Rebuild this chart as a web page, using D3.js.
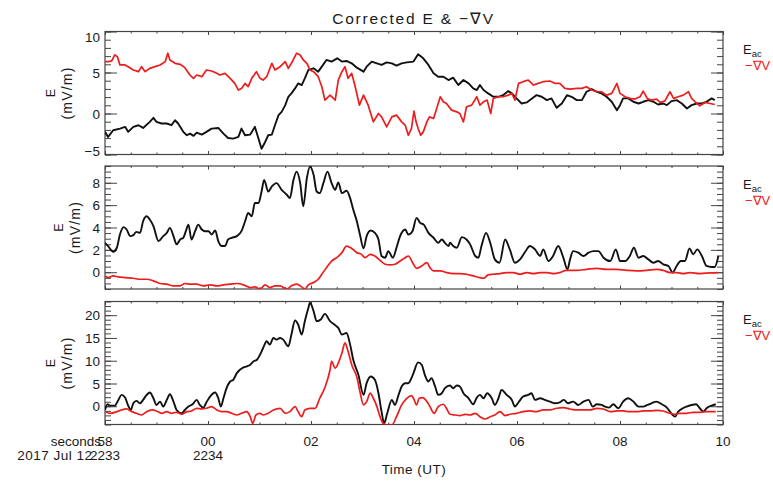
<!DOCTYPE html>
<html>
<head>
<meta charset="utf-8">
<script src="https://cdn.jsdelivr.net/npm/d3@7"></script>
<style>
  body { margin: 0; background: #fff; }
  svg text { font-family: "Liberation Sans", Arial, Helvetica, sans-serif; fill: #1a1a1a; }
</style>
</head>
<body>
<svg id="chart" width="773" height="481"></svg>
<script>
// Time is seconds after 2017-07-12 22:33:58 UT; field values are mV/m.
// Panel 1
const eac1 = [[0.00,-2.24],[0.06,-2.86],[0.16,-2.04],[0.29,-1.84],[0.39,-1.63],[0.45,-2.24],[0.55,-1.63],[0.65,-1.43],[0.74,-1.76],[0.87,-1.02],[0.94,-0.53],[1.00,-1.02],[1.10,-1.22],[1.20,-1.22],[1.29,-1.43],[1.36,-0.82],[1.42,-1.22],[1.52,-2.24],[1.59,-2.65],[1.65,-2.45],[1.72,-2.73],[1.78,-2.33],[1.88,-2.57],[1.97,-2.24],[2.07,-1.84],[2.20,-1.76],[2.30,-2.45],[2.39,-2.98],[2.49,-3.06],[2.59,-2.86],[2.65,-1.84],[2.72,-2.65],[2.82,-2.57],[2.91,-1.63],[2.98,-3.06],[3.04,-4.29],[3.11,-3.47],[3.17,-2.65],[3.24,-2.57],[3.30,-1.43],[3.37,-0.20],[3.43,0.20],[3.50,1.02],[3.56,2.04],[3.62,2.45],[3.69,3.06],[3.75,3.67],[3.82,3.47],[3.88,4.29],[3.95,5.31],[4.05,5.51],[4.14,5.10],[4.21,5.71],[4.30,6.53],[4.40,6.33],[4.51,6.73],[4.60,6.33],[4.69,6.41],[4.79,6.12],[4.89,5.59],[5.02,5.10],[5.08,5.71],[5.18,6.33],[5.28,6.12],[5.37,5.92],[5.47,6.24],[5.57,6.12],[5.66,5.84],[5.76,6.12],[5.86,6.24],[5.99,6.33],[6.08,7.22],[6.18,6.73],[6.28,5.92],[6.38,4.90],[6.47,4.49],[6.57,4.49],[6.67,4.08],[6.76,4.37],[6.86,3.47],[6.96,4.08],[7.06,3.67],[7.15,3.06],[7.22,2.86],[7.28,3.47],[7.35,2.86],[7.44,2.45],[7.54,2.04],[7.64,2.04],[7.73,2.24],[7.83,2.73],[7.90,2.45],[7.99,1.84],[8.09,1.22],[8.19,1.35],[8.29,1.84],[8.38,2.24],[8.48,2.04],[8.58,1.63],[8.67,1.84],[8.77,0.69],[8.87,1.22],[8.97,2.24],[9.06,2.04],[9.16,1.63],[9.26,1.63],[9.35,2.65],[9.45,2.98],[9.55,2.65],[9.64,2.45],[9.74,2.04],[9.84,1.43],[9.94,0.41],[10.00,1.02],[10.06,1.84],[10.16,1.84],[10.26,1.43],[10.36,1.22],[10.45,1.43],[10.55,1.63],[10.65,1.43],[10.74,1.10],[10.84,1.22],[10.91,1.02],[11.00,1.51],[11.10,1.63],[11.20,1.22],[11.30,0.61],[11.39,1.02],[11.49,1.22],[11.59,1.22],[11.68,1.43],[11.78,1.84],[11.84,1.63]];
const gradV1 = [[0.00,6.33],[0.06,6.33],[0.13,6.41],[0.19,7.14],[0.24,6.94],[0.29,5.92],[0.39,5.92],[0.45,5.71],[0.55,5.31],[0.65,5.10],[0.71,5.71],[0.78,5.10],[0.87,5.51],[0.97,5.71],[1.07,5.92],[1.17,6.33],[1.22,7.35],[1.26,6.53],[1.36,6.12],[1.46,6.00],[1.55,5.59],[1.65,4.69],[1.72,4.29],[1.78,4.69],[1.88,4.49],[1.97,5.31],[2.07,5.18],[2.17,4.90],[2.23,4.69],[2.33,4.90],[2.43,4.29],[2.52,3.67],[2.59,2.86],[2.65,3.06],[2.72,3.67],[2.78,3.27],[2.85,4.29],[2.94,5.10],[3.01,4.29],[3.07,4.08],[3.14,4.49],[3.24,6.12],[3.30,5.31],[3.40,5.71],[3.50,6.33],[3.56,5.51],[3.62,6.12],[3.72,7.35],[3.79,7.14],[3.85,6.53],[3.92,6.12],[3.98,5.31],[4.05,5.10],[4.14,4.49],[4.21,3.27],[4.27,1.63],[4.37,2.24],[4.47,1.63],[4.53,4.08],[4.60,5.10],[4.66,5.71],[4.72,4.29],[4.79,4.90],[4.85,3.47],[4.94,1.02],[5.02,2.24],[5.11,1.02],[5.21,-1.02],[5.31,0.00],[5.37,-0.41],[5.47,-1.63],[5.57,-0.41],[5.66,-0.20],[5.76,-1.02],[5.83,-1.43],[5.89,-2.65],[5.95,-1.84],[6.00,0.30],[6.04,-1.02],[6.08,-1.84],[6.13,-2.65],[6.18,-2.24],[6.25,-1.02],[6.30,-0.41],[6.38,-0.61],[6.44,0.61],[6.51,2.04],[6.57,1.43],[6.63,1.22],[6.73,0.41],[6.83,0.20],[6.89,0.00],[6.96,-1.02],[7.02,0.82],[7.12,1.02],[7.22,2.04],[7.28,1.02],[7.35,1.43],[7.42,1.63],[7.49,0.00],[7.54,1.84],[7.64,2.04],[7.73,2.04],[7.83,2.24],[7.90,2.45],[7.96,1.63],[8.03,3.67],[8.12,3.88],[8.22,4.08],[8.32,3.47],[8.41,3.67],[8.51,3.88],[8.64,3.96],[8.74,3.67],[8.83,3.67],[8.93,3.06],[9.03,2.98],[9.16,3.06],[9.26,3.06],[9.35,3.27],[9.45,2.86],[9.55,2.65],[9.64,2.65],[9.74,2.24],[9.84,2.45],[9.94,3.67],[10.00,2.45],[10.10,2.04],[10.19,1.84],[10.29,1.76],[10.39,2.04],[10.45,2.73],[10.53,1.84],[10.61,1.63],[10.71,1.76],[10.78,1.35],[10.87,1.51],[10.97,2.65],[11.04,1.84],[11.13,2.04],[11.23,2.24],[11.33,2.65],[11.39,1.84],[11.46,1.43],[11.55,0.94],[11.65,1.35],[11.75,1.22],[11.84,1.10]];

// Panel 2
const eac2 = [[0.00,2.63],[0.06,2.34],[0.16,1.83],[0.23,2.19],[0.29,3.37],[0.36,4.03],[0.42,3.82],[0.49,3.23],[0.55,3.32],[0.61,3.61],[0.68,3.52],[0.74,4.56],[0.81,5.00],[0.87,4.71],[0.94,4.12],[1.04,2.78],[1.13,3.23],[1.20,3.52],[1.26,3.97],[1.33,3.23],[1.39,2.49],[1.46,2.93],[1.52,3.08],[1.57,3.67],[1.62,4.26],[1.68,2.93],[1.75,3.67],[1.81,4.26],[1.88,3.82],[1.94,3.67],[2.01,3.67],[2.07,3.37],[2.14,3.73],[2.20,2.78],[2.27,2.34],[2.33,2.34],[2.39,2.93],[2.46,3.08],[2.56,3.23],[2.65,3.67],[2.72,4.56],[2.78,5.30],[2.85,5.00],[2.91,6.19],[2.98,6.19],[3.04,7.22],[3.09,8.26],[3.17,7.22],[3.24,7.67],[3.33,7.97],[3.43,7.37],[3.53,6.93],[3.59,6.63],[3.66,8.26],[3.72,9.00],[3.79,7.97],[3.85,5.90],[3.92,8.41],[3.98,9.45],[4.05,8.71],[4.11,7.22],[4.17,7.08],[4.24,7.97],[4.32,9.00],[4.40,7.97],[4.47,7.37],[4.53,8.04],[4.60,7.08],[4.69,7.29],[4.76,6.63],[4.82,5.60],[4.89,4.56],[4.95,3.37],[5.02,2.13],[5.08,3.23],[5.16,3.73],[5.24,3.52],[5.31,2.93],[5.37,1.45],[5.44,1.30],[5.50,1.89],[5.59,1.30],[5.66,2.19],[5.73,3.23],[5.83,3.82],[5.89,3.37],[5.97,3.67],[6.05,4.86],[6.12,4.41],[6.19,4.26],[6.28,3.52],[6.38,3.08],[6.47,2.63],[6.54,2.93],[6.60,2.63],[6.67,2.34],[6.70,2.63],[6.76,2.34],[6.83,2.19],[6.93,3.14],[7.02,2.93],[7.09,2.49],[7.19,1.45],[7.25,1.30],[7.31,2.34],[7.40,3.52],[7.48,2.63],[7.57,1.15],[7.66,0.85],[7.77,2.93],[7.86,2.04],[7.96,0.85],[8.06,1.15],[8.16,1.83],[8.25,2.34],[8.35,2.04],[8.45,1.45],[8.51,2.04],[8.61,1.00],[8.70,1.45],[8.80,2.34],[8.90,1.30],[8.98,0.26],[9.03,1.15],[9.09,1.89],[9.19,1.75],[9.29,1.45],[9.39,1.75],[9.48,1.89],[9.58,1.89],[9.68,1.30],[9.81,1.00],[9.92,2.04],[10.00,1.00],[10.10,1.00],[10.19,1.45],[10.27,2.19],[10.36,1.30],[10.45,1.45],[10.55,1.15],[10.65,0.85],[10.74,1.00],[10.84,0.71],[10.94,0.56],[11.02,-0.03],[11.10,0.56],[11.18,1.00],[11.26,1.00],[11.35,2.13],[11.42,1.60],[11.50,2.04],[11.59,1.45],[11.68,0.56],[11.78,0.47],[11.84,0.47],[11.91,1.45]];
const gradV2 = [[0.00,-0.33],[0.06,-0.48],[0.16,-0.33],[0.26,-0.42],[0.39,-0.48],[0.55,-0.54],[0.68,-0.63],[0.81,-0.63],[0.94,-0.77],[1.07,-1.01],[1.20,-1.07],[1.33,-1.22],[1.46,-1.22],[1.55,-1.01],[1.65,-1.07],[1.78,-1.07],[1.91,-1.22],[2.04,-1.13],[2.17,-1.22],[2.30,-1.13],[2.43,-1.07],[2.56,-1.01],[2.69,-1.13],[2.82,-1.37],[2.91,-1.31],[3.01,-1.51],[3.11,-1.13],[3.20,-1.37],[3.30,-1.22],[3.40,-1.22],[3.53,-1.51],[3.62,-1.22],[3.72,-1.07],[3.82,-1.31],[3.88,-1.51],[3.95,-1.13],[4.05,-0.92],[4.14,-0.63],[4.21,-0.18],[4.30,0.41],[4.40,1.00],[4.50,1.30],[4.60,1.75],[4.69,2.34],[4.79,2.13],[4.89,1.75],[4.98,1.60],[5.05,1.30],[5.15,1.60],[5.24,1.45],[5.34,1.06],[5.44,0.71],[5.53,0.65],[5.63,0.71],[5.73,1.00],[5.83,1.30],[5.89,1.45],[5.99,0.71],[6.05,0.35],[6.15,0.56],[6.25,0.86],[6.31,0.41],[6.38,0.12],[6.51,0.12],[6.63,-0.03],[6.76,-0.12],[6.89,-0.12],[7.02,-0.18],[7.15,-0.33],[7.28,-0.48],[7.35,-0.54],[7.44,-0.24],[7.54,-0.18],[7.67,-0.12],[7.80,-0.03],[7.93,-0.03],[8.06,-0.18],[8.19,-0.03],[8.32,-0.12],[8.45,-0.03],[8.58,-0.03],[8.71,-0.12],[8.83,-0.03],[8.96,0.17],[9.16,0.17],[9.35,0.26],[9.55,0.35],[9.74,0.26],[9.94,0.26],[10.13,0.17],[10.32,0.12],[10.52,0.17],[10.71,0.26],[10.84,0.17],[10.97,-0.03],[11.10,-0.03],[11.23,-0.12],[11.36,-0.03],[11.55,-0.12],[11.75,-0.06],[11.91,-0.03]];

// Panel 3
const eac3 = [[0.00,-0.81],[0.05,0.44],[0.10,0.15],[0.19,0.15],[0.26,1.40],[0.32,2.50],[0.39,1.91],[0.45,0.15],[0.50,-0.81],[0.55,0.66],[0.61,1.18],[0.68,0.66],[0.74,1.40],[0.81,2.50],[0.87,3.01],[0.94,1.76],[1.00,0.29],[1.07,1.03],[1.13,-0.07],[1.20,1.40],[1.26,2.65],[1.33,1.03],[1.39,-0.81],[1.49,-1.54],[1.55,-0.81],[1.62,-0.07],[1.70,0.44],[1.78,1.40],[1.84,0.29],[1.91,-0.29],[1.97,0.88],[2.04,2.13],[2.14,3.01],[2.20,1.76],[2.25,-0.07],[2.30,1.76],[2.36,3.97],[2.43,5.44],[2.49,5.81],[2.56,7.28],[2.62,8.01],[2.69,8.53],[2.75,8.75],[2.82,9.12],[2.88,9.85],[2.95,10.22],[3.01,11.32],[3.07,12.79],[3.14,14.26],[3.20,13.53],[3.27,15.00],[3.33,14.63],[3.40,15.00],[3.46,14.63],[3.56,13.16],[3.62,15.74],[3.69,18.82],[3.75,17.94],[3.82,15.74],[3.88,18.68],[3.95,21.62],[3.98,22.72],[4.05,20.88],[4.11,18.68],[4.19,19.04],[4.27,20.29],[4.37,18.68],[4.47,17.79],[4.53,17.21],[4.60,15.74],[4.69,16.10],[4.76,13.53],[4.82,10.22],[4.92,6.91],[5.02,2.50],[5.08,5.07],[5.16,6.54],[5.24,5.81],[5.31,2.87],[5.37,-1.18],[5.42,-3.75],[5.48,-1.54],[5.57,1.40],[5.63,0.29],[5.70,2.50],[5.76,4.34],[5.83,5.07],[5.89,5.07],[5.95,6.18],[5.99,7.28],[6.08,9.63],[6.15,9.12],[6.21,6.91],[6.28,5.44],[6.34,6.18],[6.41,4.34],[6.47,2.50],[6.54,2.87],[6.60,3.97],[6.70,4.56],[6.76,3.97],[6.83,4.56],[6.89,4.34],[6.96,2.87],[7.06,1.76],[7.15,0.44],[7.22,1.91],[7.28,2.50],[7.35,1.76],[7.42,2.87],[7.51,1.76],[7.57,0.29],[7.64,1.76],[7.70,3.60],[7.80,2.50],[7.90,1.40],[7.96,-0.07],[8.03,0.88],[8.12,2.13],[8.22,2.50],[8.28,2.87],[8.35,1.40],[8.45,1.76],[8.54,1.40],[8.64,1.03],[8.74,0.66],[8.83,0.88],[8.91,1.40],[8.99,0.66],[9.09,1.03],[9.19,0.29],[9.29,1.03],[9.39,1.40],[9.47,-0.07],[9.55,0.44],[9.64,0.29],[9.71,-0.07],[9.79,-0.29],[9.87,0.44],[9.97,-0.44],[10.06,1.03],[10.16,1.76],[10.26,1.03],[10.36,-0.07],[10.45,-0.07],[10.53,0.29],[10.61,0.66],[10.71,1.03],[10.81,0.44],[10.91,-0.29],[10.97,-1.18],[11.07,-2.28],[11.13,-1.18],[11.22,-0.44],[11.29,-0.07],[11.39,0.29],[11.48,0.44],[11.55,-0.44],[11.62,-1.18],[11.68,-0.44],[11.78,0.15],[11.86,0.44]];
const gradV3 = [[0.00,-1.18],[0.10,-1.54],[0.23,-1.18],[0.32,-0.81],[0.42,-0.59],[0.52,-1.18],[0.61,-1.54],[0.71,-1.91],[0.81,-1.18],[0.91,-0.81],[1.00,-1.03],[1.10,-1.54],[1.20,-1.18],[1.29,-1.54],[1.39,-1.32],[1.49,-1.76],[1.59,-1.18],[1.68,-1.03],[1.78,-0.44],[1.88,-0.59],[1.97,-0.44],[2.07,-0.07],[2.17,-0.81],[2.27,-1.18],[2.36,-1.18],[2.46,-1.54],[2.56,-1.91],[2.65,-1.54],[2.75,-1.18],[2.82,-2.28],[2.87,-3.75],[2.93,-1.91],[3.01,-1.54],[3.07,-1.91],[3.17,-1.54],[3.27,-0.81],[3.40,-0.44],[3.50,-1.54],[3.59,-1.18],[3.69,-0.07],[3.75,-1.18],[3.82,-2.28],[3.88,-0.81],[3.98,-0.44],[4.08,-0.44],[4.17,1.76],[4.27,4.12],[4.37,8.01],[4.40,9.85],[4.47,8.38],[4.53,9.49],[4.60,11.69],[4.66,13.90],[4.72,12.06],[4.79,9.12],[4.89,6.40],[4.95,3.24],[5.02,0.29],[5.08,1.03],[5.15,2.87],[5.21,1.76],[5.28,-0.07],[5.34,-2.28],[5.40,-3.75],[5.47,-4.12],[5.57,-4.12],[5.66,-2.28],[5.76,0.29],[5.86,1.76],[5.95,2.35],[5.99,1.76],[6.05,0.29],[6.10,1.76],[6.17,1.91],[6.25,1.03],[6.31,-0.07],[6.39,-1.54],[6.47,-0.07],[6.57,0.44],[6.63,-0.44],[6.70,-1.76],[6.80,-1.91],[6.89,-2.06],[6.99,-1.76],[7.09,-1.91],[7.19,-1.54],[7.28,-2.28],[7.38,-2.79],[7.48,-2.28],[7.57,-1.91],[7.67,-1.18],[7.77,-2.06],[7.86,-1.76],[7.99,-1.54],[8.12,-1.18],[8.25,-1.03],[8.38,-1.18],[8.51,-0.81],[8.64,-0.81],[8.77,-0.44],[8.90,-0.29],[9.03,-0.59],[9.16,-0.81],[9.29,-0.81],[9.42,-0.81],[9.55,-0.44],[9.68,-0.59],[9.81,-1.18],[9.94,-1.03],[10.06,-1.03],[10.19,-1.18],[10.32,-1.18],[10.45,-1.03],[10.58,-1.03],[10.71,-0.88],[10.84,-1.03],[10.97,-1.54],[11.07,-1.76],[11.16,-1.54],[11.29,-1.54],[11.42,-1.32],[11.55,-1.32],[11.68,-1.18],[11.86,-1.18]];

// Axis settings
const timeDomain = [0, 12];
const majorTimes = [0, 2, 4, 6, 8, 10, 12];
const secondLabels = ["58", "00", "02", "04", "06", "08", "10"];
const hourMinLabels = ["2233", "2234", "", "", "", "", ""];
const yDomains = [[-5, 10], [-1.5, 9.5], [-4, 23]];
const yMajorTicks = [[-5, 0, 5, 10], [0, 2, 4, 6, 8], [0, 5, 10, 15, 20]];
const yMinorSteps = [1, 0.5, 1];
const panelSeries = [[eac1, gradV1], [eac2, gradV2], [eac3, gradV3]];

// Layout
const svg = d3.select("#chart");
const left = 105, right = 723;
const panelTops = [31.5, 166, 301.5];
const panelH = 123;
const axisColor = "#444";
const black = "#111", red = "#ee1c1c";
const labelSize = "13.5px";
const fmt = v => (v < 0 ? "\u2212" + Math.abs(v) : String(v));

const x = d3.scaleLinear().domain(timeDomain).range([left, right]);
const minorTimes = d3.range(0, 12.001, 0.5);

svg.append("text")
  .attr("x", 413.5).attr("y", 24)
  .attr("text-anchor", "middle")
  .style("font-size", "15.5px")
  .style("letter-spacing", "1.8px")
  .text("Corrected E & \u2212\u2207V");

panelSeries.forEach((series, i) => {
  const top = panelTops[i], bottom = top + panelH;
  const y = d3.scaleLinear().domain(yDomains[i]).range([bottom, top]);
  const g = svg.append("g");

  g.append("clipPath").attr("id", "clip" + i)
    .append("rect").attr("x", left).attr("y", top)
    .attr("width", right - left).attr("height", panelH);

  // tick marks pointing inward on all four sides
  const [d0, d1] = yDomains[i];
  const yMinor = d3.range(Math.ceil(d0 / yMinorSteps[i]) * yMinorSteps[i], d1 + 1e-6, yMinorSteps[i]);
  const drawAxis = (axis, tx, ty) => {
    const a = g.append("g").attr("transform", `translate(${tx},${ty})`).call(axis);
    a.select(".domain").remove();
    a.selectAll("line").attr("stroke", axisColor);
    return a;
  };
  drawAxis(d3.axisLeft(y).tickValues(yMinor).tickSizeInner(-6).tickSizeOuter(0).tickFormat(""), left, 0);
  drawAxis(d3.axisRight(y).tickValues(yMinor).tickSizeInner(-6).tickSizeOuter(0).tickFormat(""), right, 0);
  drawAxis(d3.axisRight(y).tickValues(yMajorTicks[i]).tickSizeInner(-12).tickSizeOuter(0).tickFormat(""), right, 0);
  const yAx = drawAxis(d3.axisLeft(y).tickValues(yMajorTicks[i]).tickSizeInner(-12).tickSizeOuter(0)
    .tickPadding(5).tickFormat(fmt), left, 0);
  yAx.selectAll("text").style("font-size", labelSize).attr("fill", "#1a1a1a")
    .attr("dy", null).attr("dominant-baseline", "central")
    .attr("y", d => Math.min(Math.max(y(d), top + 5), bottom - 3.5) - y(d));

  drawAxis(d3.axisTop(x).tickValues(minorTimes).tickSizeInner(-2).tickSizeOuter(0).tickFormat(""), 0, top);
  drawAxis(d3.axisBottom(x).tickValues(minorTimes).tickSizeInner(-2).tickSizeOuter(0).tickFormat(""), 0, bottom);
  drawAxis(d3.axisTop(x).tickValues(majorTimes).tickSizeInner(-3.5).tickSizeOuter(0).tickFormat(""), 0, top);
  drawAxis(d3.axisBottom(x).tickValues(majorTimes).tickSizeInner(-3.5).tickSizeOuter(0).tickFormat(""), 0, bottom);

  g.append("rect").attr("x", left).attr("y", top)
    .attr("width", right - left).attr("height", panelH)
    .attr("fill", "none").attr("stroke", axisColor).attr("stroke-width", 1.2);

  // y-axis title, placed just left of the widest tick label
  let minX = Infinity;
  yAx.selectAll("text").each(function () {
    const b = this.getBBox();
    const m = this.parentNode.transform.baseVal.consolidate();
    minX = Math.min(minX, left + (m ? m.matrix.e : 0) + b.x);
  });
  const cy = (top + bottom) / 2;
  const unitX = minX - 12.5;
  g.append("text").attr("transform", `translate(${unitX},${cy}) rotate(-90)`)
    .attr("text-anchor", "middle").style("font-size", "14px").style("letter-spacing", "1.2px").text("(mV/m)");
  g.append("text").attr("transform", `translate(${unitX - 17},${cy}) rotate(-90)`)
    .attr("text-anchor", "middle").style("font-size", "12.5px").text("E");

  // the two field traces
  const line = d3.line().x(d => x(d[0])).y(d => y(d[1]));
  if (i > 0) line.curve(d3.curveMonotoneX);
  const traces = g.append("g").attr("clip-path", `url(#clip${i})`);
  traces.append("path").datum(series[0]).attr("d", line)
    .attr("fill", "none").attr("stroke", black).attr("stroke-width", 1.9).attr("stroke-linejoin", "round");
  traces.append("path").datum(series[1]).attr("d", line)
    .attr("fill", "none").attr("stroke", red).attr("stroke-width", 1.7).attr("stroke-linejoin", "round");

  // legend
  const eLab = g.append("text").attr("x", 743).attr("y", top + 22.5).style("font-size", "13px");
  eLab.append("tspan").text("E");
  eLab.append("tspan").attr("dy", 3).style("font-size", "9.5px").text("ac");
  g.append("text").attr("x", 745).attr("y", top + 38.5).style("font-size", "13px")
    .style("fill", red).text("\u2212\u2207V");
});

// time labels under the last panel
const labY1 = 446, labY2 = 459.5;
majorTimes.forEach((t, k) => {
  svg.append("text").attr("x", x(t)).attr("y", labY1).attr("text-anchor", "middle")
    .style("font-size", labelSize).text(secondLabels[k]);
  if (hourMinLabels[k]) {
    svg.append("text").attr("x", x(t)).attr("y", labY2).attr("text-anchor", "middle")
      .style("font-size", labelSize).text(hourMinLabels[k]);
  }
});
svg.append("text").attr("x", x(0) - 4).attr("y", labY1).attr("text-anchor", "end")
  .style("font-size", labelSize).text("seconds");
svg.append("text").attr("x", x(0) - 12.5).attr("y", labY2).attr("text-anchor", "end")
  .style("font-size", labelSize).style("letter-spacing", "0.5px").text("2017 Jul 12");
svg.append("text").attr("x", x(6)).attr("y", 474).attr("text-anchor", "middle")
  .style("font-size", labelSize).style("letter-spacing", "0.5px").text("Time (UT)");
</script>
</body>
</html>
